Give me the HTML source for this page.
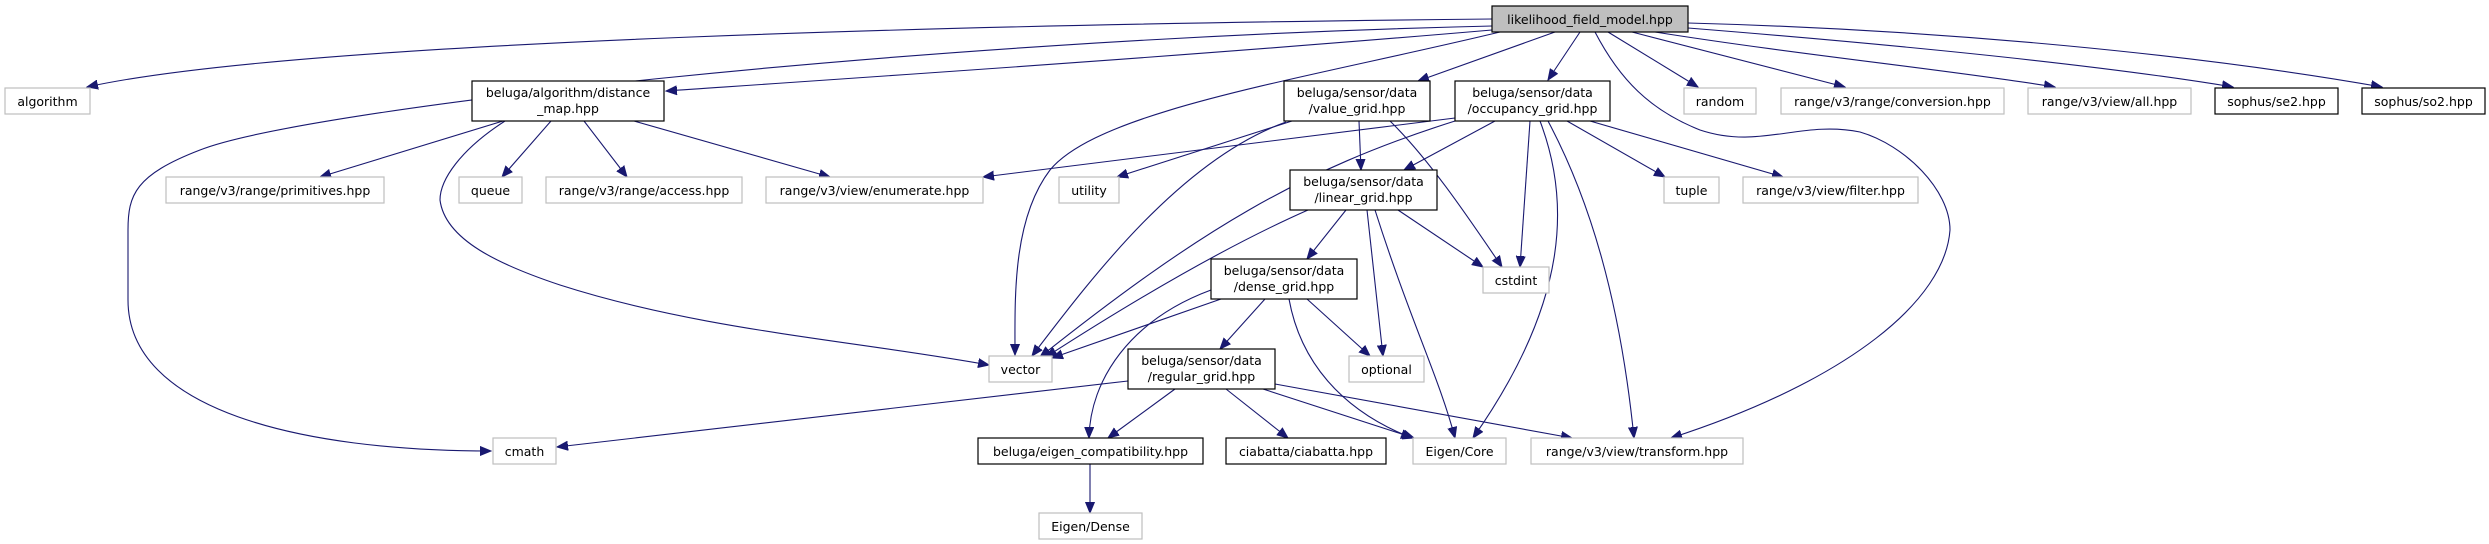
<!DOCTYPE html>
<html><head><meta charset="utf-8"><style>
html,body{margin:0;padding:0;background:#fff;}
svg{display:block;}
text{font-family:"DejaVu Sans","Liberation Sans",sans-serif;font-size:12.5px;fill:#000;text-anchor:middle;}
.e{fill:none;stroke:#191970;stroke-width:1.1;marker-end:url(#a);}
.g{fill:#fff;stroke:#bfbfbf;stroke-width:1.2;}
.b{fill:#fff;stroke:#000;stroke-width:1.2;}
</style></head><body>
<svg width="2489" height="544" viewBox="0 0 2489 544" xmlns="http://www.w3.org/2000/svg">
<defs><marker id="a" markerUnits="userSpaceOnUse" markerWidth="12" markerHeight="10" refX="11" refY="5" orient="auto"><path d="M0,0.5 L11,5 L0,9.5 z" fill="#191970" stroke="#191970"/></marker></defs>
<!-- edges from main -->
<path class="e" d="M1492,19 C1000,24 300,40 87,87"/>
<path class="e" d="M1492,26 C900,40 300,110 200,150 C135,175 128,195 128,230 L128,300 C128,410 300,451 491,451"/>
<path class="e" d="M1492,30 C1200,55 900,75 666,91"/>
<path class="e" d="M1500,32 C1300,80 1100,110 1050,170 C1012,220 1015,300 1015,355"/>
<path class="e" d="M1555,32 L1418,81"/>
<path class="e" d="M1580,32 L1548,80"/>
<path class="e" d="M1595,32 C1620,80 1650,110 1700,130 C1760,150 1800,120 1860,132 C1905,145 1950,190 1950,230 C1945,300 1850,380 1671,438"/>
<path class="e" d="M1608,32 L1698,87"/>
<path class="e" d="M1632,32 L1845,87"/>
<path class="e" d="M1655,32 C1800,55 1950,70 2055,87"/>
<path class="e" d="M1688,28 C1900,45 2100,65 2233,87"/>
<path class="e" d="M1688,23 C1950,30 2200,55 2382,87"/>
<!-- distance_map -->
<path class="e" d="M503,121 L320,177"/>
<path class="e" d="M505,121 C460,150 440,180 440,200 C445,240 500,265 560,285 C700,330 850,340 989,365"/>
<path class="e" d="M551,121 L502,177"/>
<path class="e" d="M584,121 L627,177"/>
<path class="e" d="M634,121 L830,177"/>
<!-- value_grid -->
<path class="e" d="M1292,121 L1117,177"/>
<path class="e" d="M1286,122 C1180,160 1090,280 1032,356"/>
<path class="e" d="M1359,121 L1361,170"/>
<path class="e" d="M1390,121 C1430,160 1470,220 1502,267"/>
<!-- occupancy -->
<path class="e" d="M1455,118 L983,177"/>
<path class="e" d="M1455,121 C1300,170 1200,230 1040,357"/>
<path class="e" d="M1495,121 L1404,170"/>
<path class="e" d="M1530,121 L1520,267"/>
<path class="e" d="M1540,121 C1570,200 1570,300 1473,438"/>
<path class="e" d="M1548,121 C1590,200 1620,300 1634,438"/>
<path class="e" d="M1567,121 L1665,177"/>
<path class="e" d="M1590,121 L1783,177"/>
<!-- linear -->
<path class="e" d="M1346,210 L1307,259"/>
<path class="e" d="M1308,210 C1240,240 1150,290 1046,357"/>
<path class="e" d="M1367,210 L1383,356"/>
<path class="e" d="M1375,210 C1410,320 1440,380 1455,438"/>
<path class="e" d="M1398,210 L1483,267"/>
<!-- dense -->
<path class="e" d="M1221,299 L1052,358"/>
<path class="e" d="M1211,290 C1130,320 1090,380 1089,438"/>
<path class="e" d="M1265,299 L1220,349"/>
<path class="e" d="M1307,299 L1370,356"/>
<path class="e" d="M1289,299 C1300,360 1340,410 1412,438"/>
<!-- regular -->
<path class="e" d="M1128,381 L557,447"/>
<path class="e" d="M1175,389 L1108,438"/>
<path class="e" d="M1226,389 L1288,438"/>
<path class="e" d="M1263,389 L1414,438"/>
<path class="e" d="M1275,384 L1572,438"/>
<!-- eigen compat -->
<path class="e" d="M1090,463 L1090,513"/>
<!-- nodes -->
<rect x="1492" y="6" width="196" height="26" fill="#bfbfbf" stroke="#000" stroke-width="1.2"/><text x="1590" y="24">likelihood_field_model.hpp</text>
<rect class="g" x="5" y="88" width="85" height="26"/><text x="47.5" y="106">algorithm</text>
<rect class="b" x="472" y="81" width="192" height="40"/><text x="568" y="97">beluga/algorithm/distance</text><text x="568" y="113">_map.hpp</text>
<rect class="b" x="1284" y="81" width="146" height="40"/><text x="1357" y="97">beluga/sensor/data</text><text x="1357" y="113">/value_grid.hpp</text>
<rect class="b" x="1455" y="81" width="155" height="40"/><text x="1532.5" y="97">beluga/sensor/data</text><text x="1532.5" y="113">/occupancy_grid.hpp</text>
<rect class="g" x="1684" y="88" width="72" height="26"/><text x="1720" y="106">random</text>
<rect class="g" x="1781" y="88" width="223" height="26"/><text x="1892.5" y="106">range/v3/range/conversion.hpp</text>
<rect class="g" x="2028" y="88" width="163" height="26"/><text x="2109.5" y="106">range/v3/view/all.hpp</text>
<rect class="b" x="2215" y="88" width="123" height="26"/><text x="2276.5" y="106">sophus/se2.hpp</text>
<rect class="b" x="2362" y="88" width="123" height="26"/><text x="2423.5" y="106">sophus/so2.hpp</text>
<rect class="g" x="166" y="177" width="218" height="26"/><text x="275" y="195">range/v3/range/primitives.hpp</text>
<rect class="g" x="459" y="177" width="63" height="26"/><text x="490.5" y="195">queue</text>
<rect class="g" x="546" y="177" width="196" height="26"/><text x="644" y="195">range/v3/range/access.hpp</text>
<rect class="g" x="766" y="177" width="217" height="26"/><text x="874.5" y="195">range/v3/view/enumerate.hpp</text>
<rect class="g" x="1059" y="177" width="60" height="26"/><text x="1089" y="195">utility</text>
<rect class="b" x="1290" y="170" width="147" height="40"/><text x="1363.5" y="186">beluga/sensor/data</text><text x="1363.5" y="202">/linear_grid.hpp</text>
<rect class="g" x="1664" y="177" width="55" height="26"/><text x="1691.5" y="195">tuple</text>
<rect class="g" x="1743" y="177" width="175" height="26"/><text x="1830.5" y="195">range/v3/view/filter.hpp</text>
<rect class="b" x="1211" y="259" width="146" height="40"/><text x="1284" y="275">beluga/sensor/data</text><text x="1284" y="291">/dense_grid.hpp</text>
<rect class="g" x="1483" y="267" width="66" height="26"/><text x="1516" y="285">cstdint</text>
<rect class="g" x="989" y="356" width="63" height="26"/><text x="1020.5" y="374">vector</text>
<rect class="b" x="1128" y="349" width="147" height="40"/><text x="1201.5" y="365">beluga/sensor/data</text><text x="1201.5" y="381">/regular_grid.hpp</text>
<rect class="g" x="1349" y="356" width="75" height="26"/><text x="1386.5" y="374">optional</text>
<rect class="g" x="493" y="438" width="63" height="26"/><text x="524.5" y="456">cmath</text>
<rect class="b" x="978" y="438" width="225" height="26"/><text x="1090.5" y="456">beluga/eigen_compatibility.hpp</text>
<rect class="b" x="1226" y="438" width="160" height="26"/><text x="1306" y="456">ciabatta/ciabatta.hpp</text>
<rect class="g" x="1413" y="438" width="93" height="26"/><text x="1459.5" y="456">Eigen/Core</text>
<rect class="g" x="1531" y="438" width="212" height="26"/><text x="1637" y="456">range/v3/view/transform.hpp</text>
<rect class="g" x="1039" y="513" width="103" height="26"/><text x="1090.5" y="531">Eigen/Dense</text>
</svg>
</body></html>
